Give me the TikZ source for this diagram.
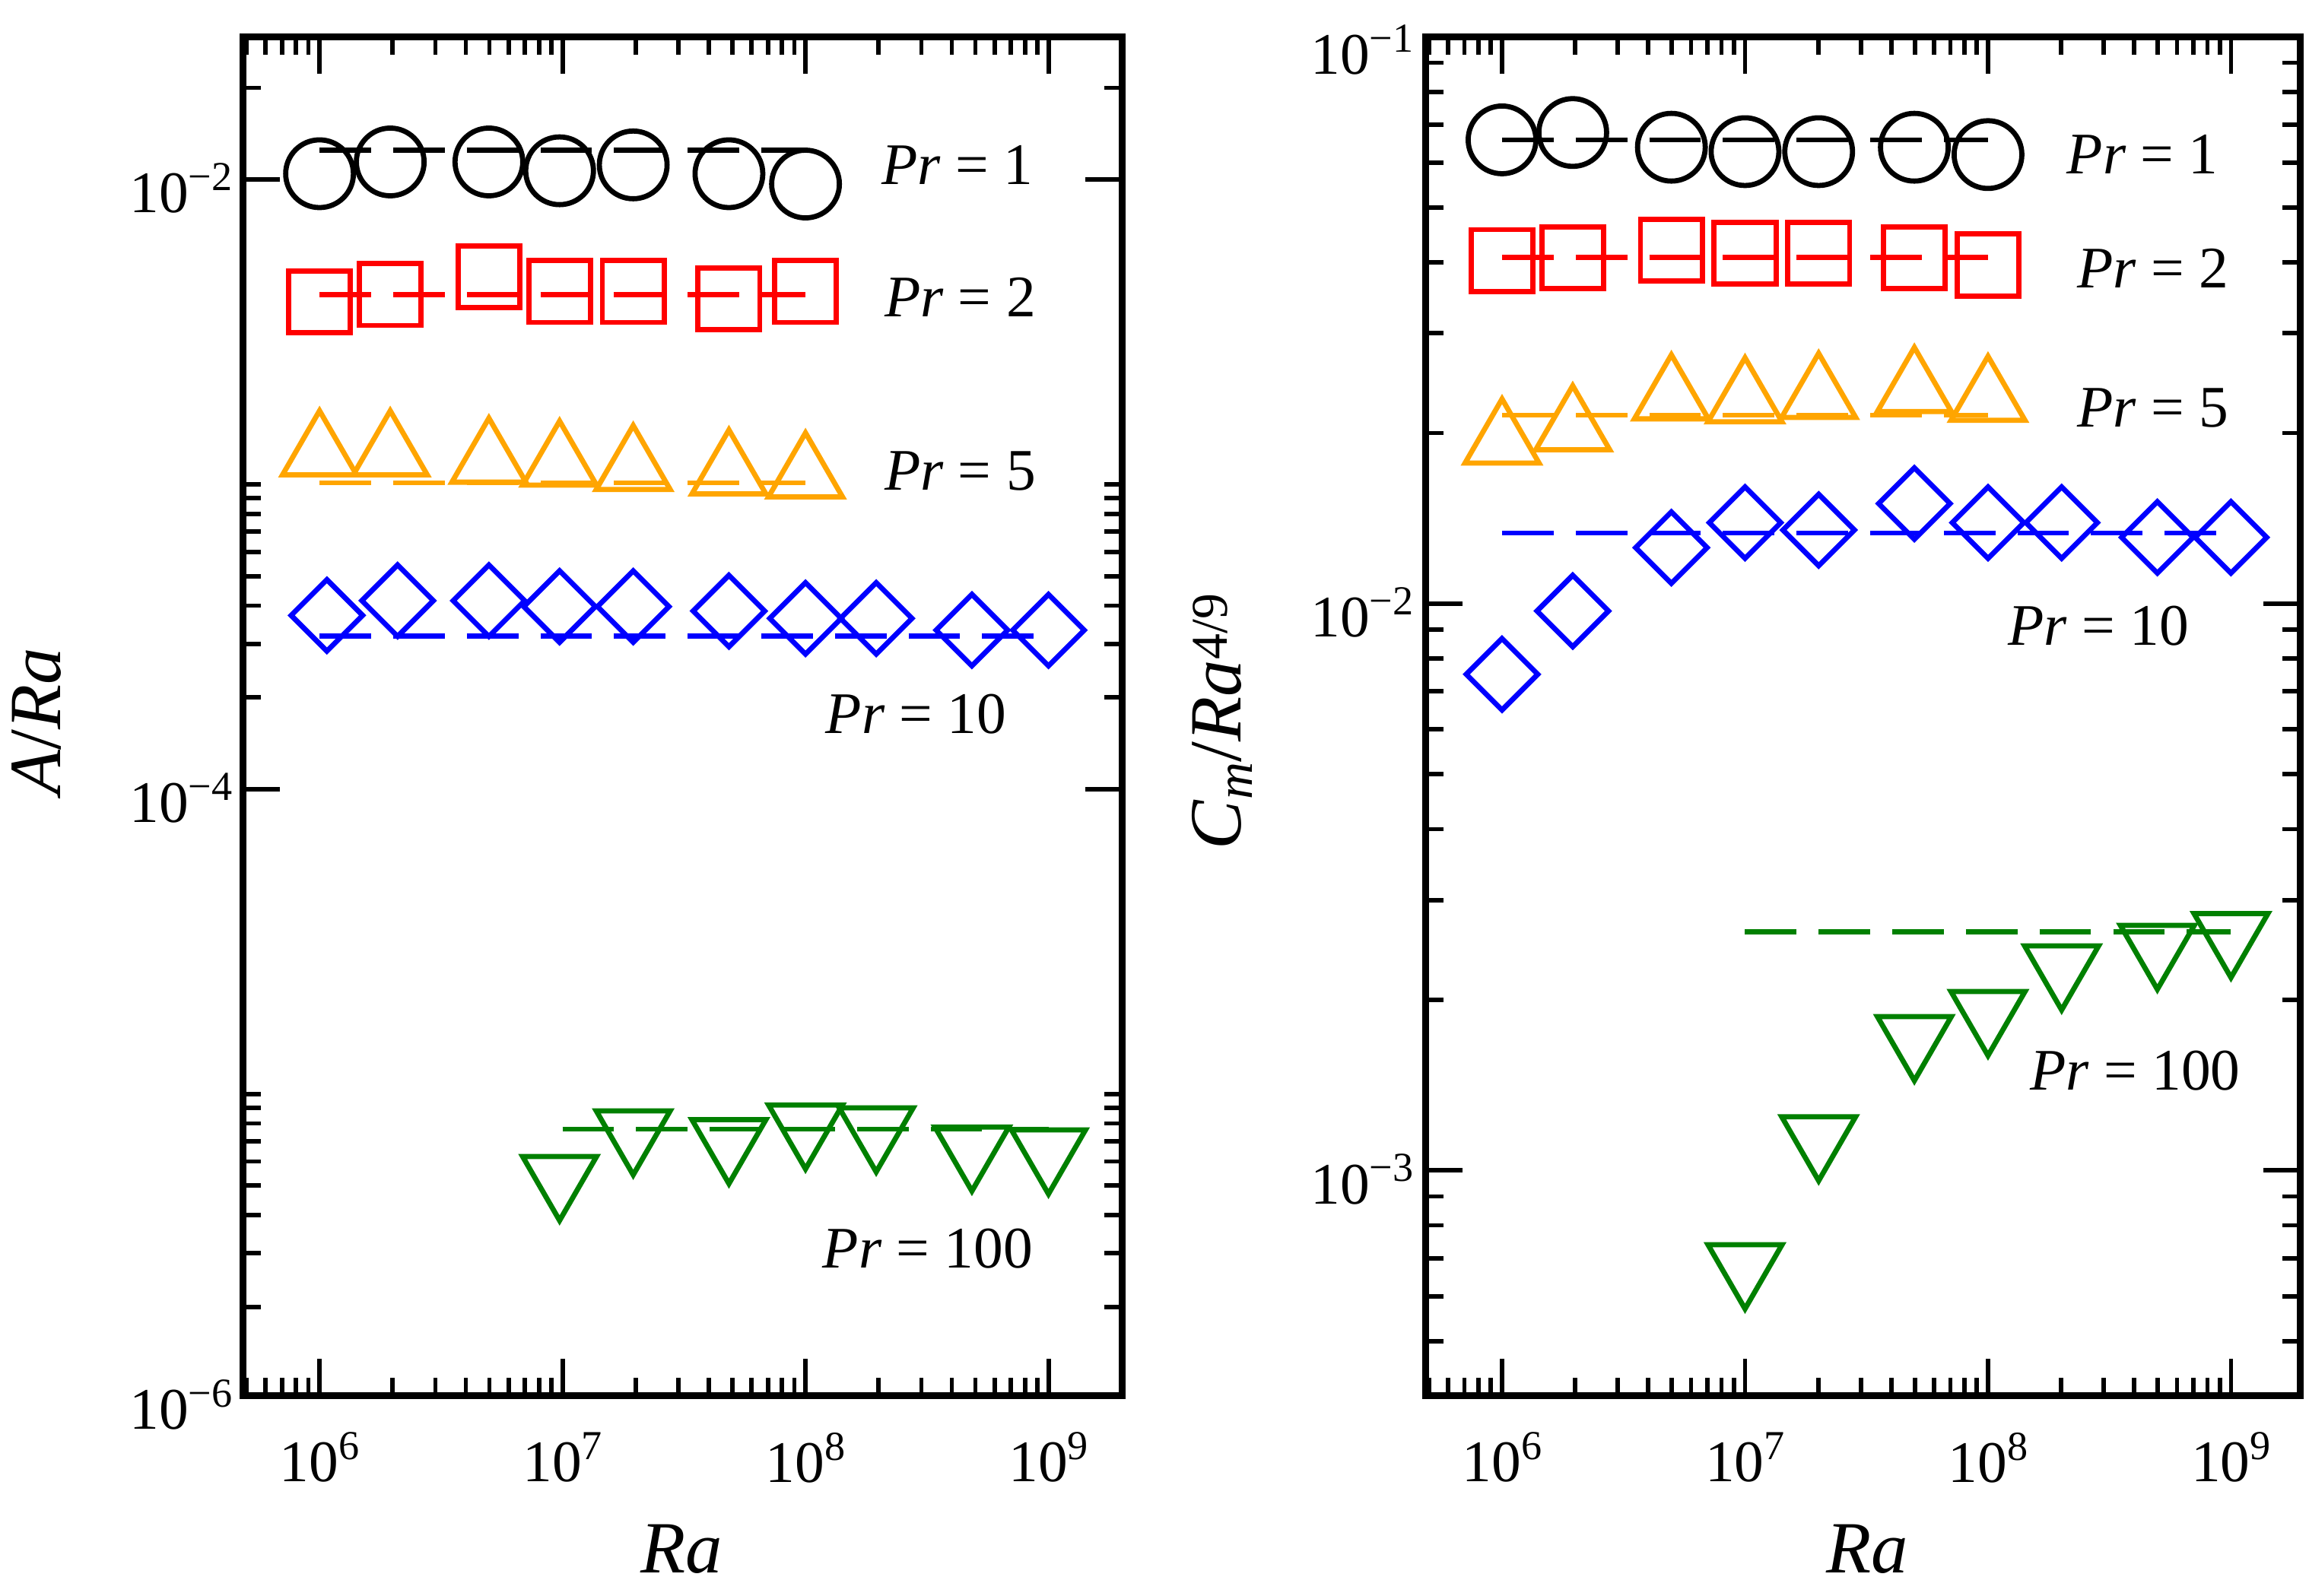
\documentclass[tikz,border=0pt]{standalone}
\usepackage{fontspec}
\setmainfont{Liberation Serif}
\usetikzlibrary{shapes.geometric}
\newcommand{\tenp}[1]{10\raisebox{15pt}{\fontsize{28}{28}\selectfont #1}}
\tikzset{
  mk/.style={draw,line width=3.5pt,inner sep=0pt,fill=none},
  circ/.style={mk,circle,minimum size=46pt},
  sqr/.style={mk,rectangle,minimum size=42pt},
  tup/.style={mk,regular polygon,regular polygon sides=3,minimum size=58pt},
  tdn/.style={mk,regular polygon,regular polygon sides=3,shape border rotate=180,minimum size=58pt},
  dia/.style={mk,diamond,aspect=1.05,minimum size=50pt},
  dl/.style={line width=3.5pt,dash pattern=on 35pt off 15pt},
  frm/.style={line width=4.5pt},
  tk/.style={line width=3pt},
  tlab/.style={font=\fontsize{40}{40}\selectfont,inner sep=0pt},
  prl/.style={font=\fontsize{40}{40}\selectfont\itshape,inner sep=0pt},
  axl/.style={font=\fontsize{50}{50}\selectfont,inner sep=0pt},
}
\definecolor{cblk}{RGB}{0,0,0}
\definecolor{cred}{RGB}{255,0,0}
\definecolor{corg}{RGB}{255,165,0}
\definecolor{cblu}{RGB}{0,0,255}
\definecolor{cgrn}{RGB}{0,128,0}
\begin{document}
\begin{tikzpicture}[x=1pt,y=-1pt]
\useasboundingbox (0,0) rectangle (1568,1084);
% ---------- LEFT PANEL ----------
\begin{scope}
\clip (165,25) rectangle (762,948);
\foreach \d in {5,6,7,8}{
  \draw[tk] ({217+165*(\d-6)},948) -- ++(0,-25);
  \draw[tk] ({217+165*(\d-6)},25) -- ++(0,25);
  \foreach \k in {2,...,9}{
    \pgfmathsetmacro\xx{217+165*(\d-6+log10(\k))}
    \draw[tk] (\xx,948) -- ++(0,-12);
    \draw[tk] (\xx,25) -- ++(0,12);
  }}
\draw[tk] (712,948) -- ++(0,-25); \draw[tk] (712,25) -- ++(0,25);
\foreach \d in {-2,-4,-6}{
  \draw[tk] (165,{122-207*(\d+2)}) -- ++(25,0);
  \draw[tk] (762,{122-207*(\d+2)}) -- ++(-25,0);
  \foreach \k in {2,...,10}{
    \pgfmathsetmacro\yy{122-207*(\d+2+log10(\k))}
    \draw[tk] (165,\yy) -- ++(12,0);
    \draw[tk] (762,\yy) -- ++(-12,0);
  }}
\end{scope}
\draw[frm] (165,25) rectangle (762,948);
\node[tlab] (lx6) at (217,990) {\tenp{6}};
\node[tlab] (lx7) at (382,990) {\tenp{7}};
\node[tlab] (lx8) at (547,990) {\tenp{8}};
\node[tlab] (lx9) at (712,990) {\tenp{9}};
\node[tlab,anchor=east] (ly2) at (158,128) {\tenp{−2}};
\node[tlab,anchor=east] (ly4) at (158,542) {\tenp{−4}};
\node[tlab,anchor=east] (ly6) at (158,954) {\tenp{−6}};
\node[axl] (lxl) at (463,1052) {\textit{Ra}};
\node[axl,rotate=90] (lyl) at (25,490) {\textit{A}/\textit{Ra}};
% data
\coordinate (la1) at (217,102); \coordinate (la2) at (547,102);
\draw[dl,cblk] (la1) -- (la2);
\foreach \x/\y [count=\i] in {217/118,265/110,332/110,380/116,430/112,495/118,547/125}
  \node[circ,cblk] (lc\i) at (\x,\y) {};
\coordinate (lb1) at (217,200); \coordinate (lb2) at (547,200);
\draw[dl,cred] (lb1) -- (lb2);
\foreach \x/\y [count=\i] in {217/205,265/200,332/188,380/198,430/198,495/203,547/198}
  \node[sqr,cred] (ls\i) at (\x,\y) {};
\coordinate (lc1) at (217,328); \coordinate (lc2) at (547,328);
\draw[dl,corg] (lc1) -- (lc2);
\foreach \x/\y [count=\i] in {217/308,265/308,332/313,380/315,430/318,495/321,547/323}
  \node[tup,corg] (lt\i) at (\x,\y) {};
\coordinate (ld1) at (217,432); \coordinate (ld2) at (712,432);
\draw[dl,cblu] (ld1) -- (ld2);
\foreach \x/\y [count=\i] in {222/418,270/408,332/408,380/412,430/412,495/415,547/420,595/420,660/428,712/428}
  \node[dia,cblu] (ld\i) at (\x,\y) {};
\coordinate (le1) at (382,767); \coordinate (le2) at (712,767);
\draw[dl,cgrn] (le1) -- (le2);
\foreach \x/\y [count=\i] in {380/800,430/769,495/775,547/765,595/767,660/780,712/782}
  \node[tdn,cgrn] (lv\i) at (\x,\y) {};
\node[prl] (lp1) at (650,112) {Pr\upshape{} = 1};
\node[prl] (lp2) at (652,202) {Pr\upshape{} = 2};
\node[prl] (lp5) at (652,320) {Pr\upshape{} = 5};
\node[prl] (lp10) at (622,485) {Pr\upshape{} = 10};
\node[prl] (lp100) at (630,848) {Pr\upshape{} = 100};
% ---------- RIGHT PANEL ----------
\begin{scope}
\clip (968,25) rectangle (1562,948);
\foreach \d in {5,6,7,8}{
  \draw[tk] ({1020+165*(\d-6)},948) -- ++(0,-25);
  \draw[tk] ({1020+165*(\d-6)},25) -- ++(0,25);
  \foreach \k in {2,...,9}{
    \pgfmathsetmacro\xx{1020+165*(\d-6+log10(\k))}
    \draw[tk] (\xx,948) -- ++(0,-12);
    \draw[tk] (\xx,25) -- ++(0,12);
  }}
\draw[tk] (1515,948) -- ++(0,-25); \draw[tk] (1515,25) -- ++(0,25);
\foreach \d in {-1,-2,-3,-4}{
  \draw[tk] (968,{410-385*(\d+2)}) -- ++(25,0);
  \draw[tk] (1562,{410-385*(\d+2)}) -- ++(-25,0);
  \foreach \k in {2,...,9}{
    \pgfmathsetmacro\yy{410-385*(\d+2+log10(\k))}
    \draw[tk] (968,\yy) -- ++(12,0);
    \draw[tk] (1562,\yy) -- ++(-12,0);
  }}
\end{scope}
\draw[frm] (968,25) rectangle (1562,948);
\node[tlab] (rx6) at (1020,990) {\tenp{6}};
\node[tlab] (rx7) at (1185,990) {\tenp{7}};
\node[tlab] (rx8) at (1350,990) {\tenp{8}};
\node[tlab] (rx9) at (1515,990) {\tenp{9}};
\node[tlab,anchor=east] (ry1) at (960,34) {\tenp{−1}};
\node[tlab,anchor=east] (ry2) at (960,416) {\tenp{−2}};
\node[tlab,anchor=east] (ry3) at (960,801) {\tenp{−3}};
\node[axl] (rxl) at (1268,1052) {\textit{Ra}};
\node[axl,rotate=90] (ryl) at (830,490) {\textit{C}\textsubscript{\textit{m}}/\textit{Ra}\textsuperscript{4/9}};
\coordinate (ra1) at (1020,95); \coordinate (ra2) at (1350,95);
\draw[dl,cblk] (ra1) -- (ra2);
\foreach \x/\y [count=\i] in {1020/95,1068/90,1135/100,1185/103,1235/103,1300/100,1350/105}
  \node[circ,cblk] (rc\i) at (\x,\y) {};
\coordinate (rb1) at (1020,175); \coordinate (rb2) at (1350,175);
\draw[dl,cred] (rb1) -- (rb2);
\foreach \x/\y [count=\i] in {1020/177,1068/175,1135/170,1185/172,1235/172,1300/175,1350/180}
  \node[sqr,cred] (rs\i) at (\x,\y) {};
\coordinate (rc1) at (1020,282); \coordinate (rc2) at (1350,282);
\draw[dl,corg] (rc1) -- (rc2);
\foreach \x/\y [count=\i] in {1020/300,1068/291,1135/270,1185/272,1235/269,1300/265,1350/271}
  \node[tup,corg] (rt\i) at (\x,\y) {};
\coordinate (rd1) at (1020,362); \coordinate (rd2) at (1515,362);
\draw[dl,cblu] (rd1) -- (rd2);
\foreach \x/\y [count=\i] in {1020/458,1068/415,1135/372,1185/355,1235/360,1300/342,1350/355,1400/355,1465/365,1515/365}
  \node[dia,cblu] (rd\i) at (\x,\y) {};
\coordinate (re1) at (1185,633); \coordinate (re2) at (1515,633);
\draw[dl,cgrn] (re1) -- (re2);
\foreach \x/\y [count=\i] in {1185/860,1235/773,1300/705,1350/688,1400/657,1465/643,1515/635}
  \node[tdn,cgrn] (rv\i) at (\x,\y) {};
\node[prl] (rp1) at (1455,105) {Pr\upshape{} = 1};
\node[prl] (rp2) at (1462,182) {Pr\upshape{} = 2};
\node[prl] (rp5) at (1462,277) {Pr\upshape{} = 5};
\node[prl] (rp10) at (1425,425) {Pr\upshape{} = 10};
\node[prl] (rp100) at (1450,727) {Pr\upshape{} = 100};
\end{tikzpicture}
\end{document}
